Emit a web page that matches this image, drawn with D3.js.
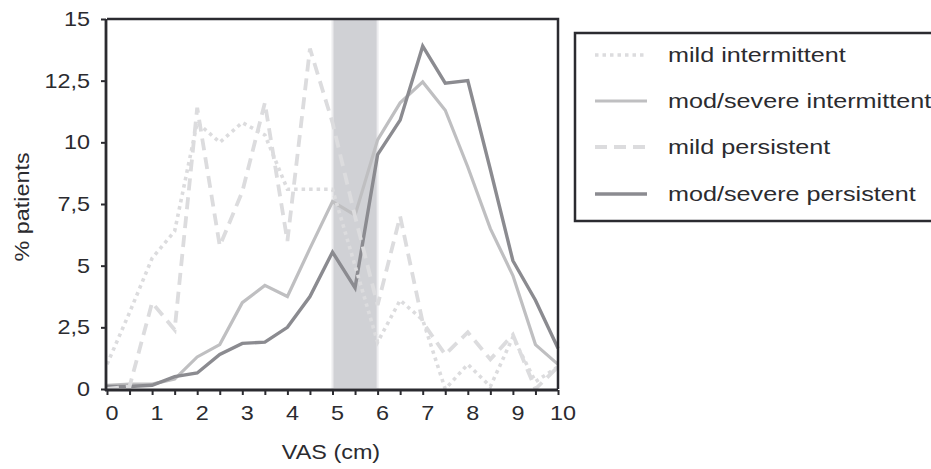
<!DOCTYPE html>
<html>
<head>
<meta charset="utf-8">
<script src="https://cdn.jsdelivr.net/npm/d3@7"></script>
<style>
  body { margin: 0; background: #fff; }
  svg { display: block; }
  text { font-family: "Liberation Sans", Arial, sans-serif; fill: #2b2b2f; }
</style>
</head>
<body>
<div id="vis"></div>
<script>
const FRAME_WIDTH = 931;
const FRAME_HEIGHT = 469;

// VAS scores, every half cm
const vas = [0, 0.5, 1, 1.5, 2, 2.5, 3, 3.5, 4, 4.5, 5, 5.5, 6, 6.5, 7, 7.5, 8, 8.5, 9, 9.5, 10];

// % patients per group
const mildIntermittent   = [1.0, 3.1, 5.3, 6.4, 10.8, 10.0, 10.8, 10.3, 8.1, 8.1, 8.1, 5.0, 1.9, 3.6, 2.8, 0.0, 1.0, 0.1, 2.1, 0.3, 0.9];
const modSevIntermittent = [0.15, 0.2, 0.2, 0.4, 1.3, 1.8, 3.5, 4.2, 3.75, 5.7, 7.6, 7.05, 10.1, 11.6, 12.45, 11.3, 9.0, 6.5, 4.6, 1.8, 1.0];
const mildPersistent     = [0.0, 0.1, 3.5, 2.4, 11.4, 5.8, 8.0, 11.6, 6.0, 13.8, 10.8, 7.0, 3.4, 7.0, 2.7, 1.4, 2.3, 1.2, 2.2, 0.0, 0.9];
const modSevPersistent   = [0.1, 0.1, 0.15, 0.5, 0.65, 1.4, 1.85, 1.9, 2.5, 3.75, 5.55, 4.1, 9.5, 10.9, 13.9, 12.4, 12.5, 8.9, 5.2, 3.6, 1.65];

const yTicks = [0, 2.5, 5, 7.5, 10, 12.5, 15];
const xTicks = [0, 1, 2, 3, 4, 5, 6, 7, 8, 9, 10];
const band = [5, 6];

const series = [
  {name: 'mod/severe intermittent', values: modSevIntermittent, color: '#bfbfc1', width: 3.2, dash: null},
  {name: 'mod/severe persistent', values: modSevPersistent, color: '#8b8b90', width: 3.4, dash: null},
  {name: 'mild intermittent', values: mildIntermittent, color: '#dcdcde', width: 3.6, dash: '3.5,4'},
  {name: 'mild persistent', values: mildPersistent, color: '#dcdcde', width: 3.8, dash: '12,7'}
];

const FRAME1 = d3.select('#vis')
  .append('svg')
    .attr('width', FRAME_WIDTH)
    .attr('height', FRAME_HEIGHT);

const X_SCALE = d3.scaleLinear().domain([0, 10]).range([107, 558]);
const Y_SCALE = d3.scaleLinear().domain([0, 15]).range([389, 19]);

// text slightly wider than plain Arial, like the scanned figure
function label(g, x, y, str, anchor, rot, sx) {
  const t = g.append('g')
    .attr('transform', 'translate(' + x + ',' + y + ')' + (rot ? ' rotate(' + rot + ')' : '') + ' scale(' + (sx || 1.17) + ',1)');
  return t.append('text')
    .attr('text-anchor', anchor)
    .attr('font-size', '20px')
    .text(str);
}

// shaded band 5-6 cm
FRAME1.append('rect')
  .attr('x', X_SCALE(band[0]))
  .attr('y', Y_SCALE(15))
  .attr('width', X_SCALE(band[1]) - X_SCALE(band[0]))
  .attr('height', Y_SCALE(0) - Y_SCALE(15))
  .attr('fill', '#d0d1d5')
  .attr('stroke', '#ececee')
  .attr('stroke-width', 2);

// lines
const line = d3.line()
  .x((d, i) => X_SCALE(vas[i]))
  .y(d => Y_SCALE(d));

series.forEach(s => {
  FRAME1.append('path')
    .datum(s.values)
    .attr('fill', 'none')
    .attr('stroke', s.color)
    .attr('stroke-width', s.width)
    .attr('stroke-dasharray', s.dash)
    .attr('d', line);
});

// frame top + right
FRAME1.append('path')
  .attr('d', 'M' + X_SCALE(0) + ',' + Y_SCALE(15) + 'H' + X_SCALE(10) + 'V' + Y_SCALE(0))
  .attr('fill', 'none')
  .attr('stroke', '#2b2b30')
  .attr('stroke-width', 2.5);

// y axis
const yAxis = FRAME1.append('g')
  .attr('transform', 'translate(' + (X_SCALE(0) - 1) + ',0)')
  .call(d3.axisLeft(Y_SCALE).tickValues(yTicks).tickSize(5).tickFormat(''));

// x axis, ticks every 0.5
const xAxis = FRAME1.append('g')
  .attr('transform', 'translate(0,' + (Y_SCALE(0) + 1) + ')')
  .call(d3.axisBottom(X_SCALE).tickValues(vas).tickSize(5).tickFormat(''));

[yAxis, xAxis].forEach(a => {
  a.select('.domain').attr('stroke', '#2b2b30').attr('stroke-width', 2.8);
  a.selectAll('.tick line').attr('stroke', '#2b2b30').attr('stroke-width', 2);
});
xAxis.select('.domain').attr('d', 'M' + (X_SCALE(0) - 2) + ',0H' + X_SCALE(10));
yAxis.select('.domain').attr('d', 'M0,' + Y_SCALE(15) + 'V' + (Y_SCALE(0) + 2));

const fmt = v => String(v).replace('.', ',');

yTicks.forEach(v => {
  label(FRAME1, 90, Y_SCALE(v) + 7, fmt(v), 'end');
});
xTicks.forEach(v => {
  label(FRAME1, X_SCALE(v) + 5, 420, fmt(v), 'middle');
});

label(FRAME1, 331, 459, 'VAS (cm)', 'middle');
label(FRAME1, 29, 207, '% patients', 'middle', -90);

// legend
const legend = FRAME1.append('g');
legend.append('rect')
  .attr('x', 575)
  .attr('y', 33)
  .attr('width', 400)
  .attr('height', 188)
  .attr('fill', 'none')
  .attr('stroke', '#2b2b30')
  .attr('stroke-width', 2.5);

const rowY = [55, 101, 147, 194];
const order = ['mild intermittent', 'mod/severe intermittent', 'mild persistent', 'mod/severe persistent'];
order.forEach((name, i) => {
  const s = series.find(d => d.name === name);
  legend.append('line')
    .attr('x1', 595).attr('x2', 647)
    .attr('y1', rowY[i]).attr('y2', rowY[i])
    .attr('stroke', s.color)
    .attr('stroke-width', s.width)
    .attr('stroke-dasharray', s.dash);
  label(legend, 668, rowY[i] + 7, name, 'start', null, 1.26);
});
</script>
</body>
</html>
